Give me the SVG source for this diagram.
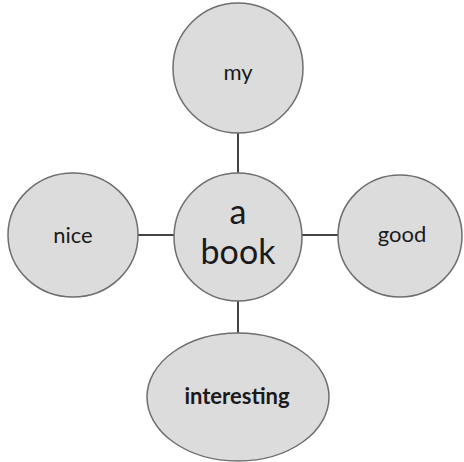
<svg xmlns="http://www.w3.org/2000/svg" width="464" height="462" viewBox="0 0 464 462">
<style>
.n{fill:#dcdcdc;stroke:#6e6e6e;stroke-width:1.5}
.t{font-family:Lato,"Open Sans",sans-serif;fill:#1a1a1a;text-anchor:middle}
.c{stroke:#444;stroke-width:2;fill:none}
</style>
<rect width="464" height="462" fill="#fff"/>
<g id="connectors">
<line class="c" x1="238" y1="133" x2="238" y2="173"/>
<line class="c" x1="138" y1="235" x2="174" y2="235"/>
<line class="c" x1="302" y1="235" x2="338" y2="235"/>
<line class="c" x1="238" y1="300" x2="238" y2="334"/>
</g>
<g id="my"><circle class="n" cx="238" cy="68" r="65"/><text class="t" x="238" y="80" font-size="22">my</text></g>
<g id="abook"><circle class="n" cx="238" cy="237" r="64"/><text class="t" x="238" y="224" font-size="34">a</text><text class="t" x="238" y="264" font-size="34">book</text></g>
<g id="nice"><ellipse class="n" cx="73" cy="235" rx="65" ry="62"/><text class="t" x="73" y="243" font-size="22">nice</text></g>
<g id="good"><ellipse class="n" cx="400" cy="236" rx="62" ry="61"/><text class="t" x="402" y="242" font-size="22">good</text></g>
<g id="interesting"><ellipse class="n" cx="238" cy="397" rx="91" ry="64"/><text class="t" x="237" y="404" font-size="22" font-weight="bold">interesting</text></g>
</svg>
